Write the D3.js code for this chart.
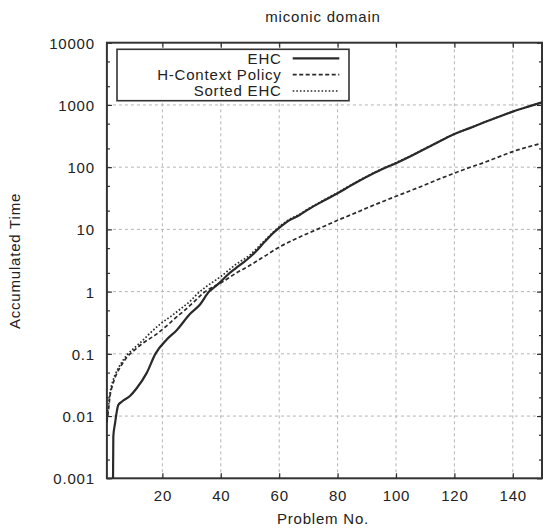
<!DOCTYPE html>
<html>
<head>
<meta charset="utf-8">
<script src="https://cdn.jsdelivr.net/npm/d3@7"></script>
<style>
  html, body { margin: 0; padding: 0; background: #fff; }
  svg text { font-family: "Liberation Sans", Arial, Helvetica, sans-serif; fill: #222; letter-spacing: 0.8px; }
</style>
</head>
<body>
<svg id="chart" width="544" height="529"></svg>
<script>
// ---- data ----
const title = "miconic domain";
const xLabel = "Problem No.";
const yLabel = "Accumulated Time";
const xTicks = [20, 40, 60, 80, 100, 120, 140];
const yTicks = [0.001, 0.01, 0.1, 1, 10, 100, 1000, 10000];
const yTickLabels = ["0.001", "0.01", "0.1", "1", "10", "100", "1000", "10000"];
const seriesNames = ["EHC", "H-Context Policy", "Sorted EHC"];

const ehcX = [3.1, 3.2, 3.8, 4.9, 6.1, 8.9, 11.2, 14.6, 17.6, 21.5, 24.9, 29.5, 32.9, 36, 38, 40, 42, 45, 48, 50, 52, 55, 58, 60, 63, 67, 70, 75, 80, 85, 90, 95, 100, 105, 110, 115, 120, 125, 130, 135, 140, 145, 150];
const ehcY = [0.001, 0.0047, 0.0077, 0.015, 0.017, 0.021, 0.028, 0.049, 0.1, 0.17, 0.24, 0.44, 0.62, 1.0, 1.2, 1.45, 1.8, 2.35, 3.0, 3.6, 4.4, 6.3, 8.8, 10.6, 13.6, 17, 21, 28.5, 38, 52, 70, 92, 116, 150, 198, 260, 340, 420, 520, 640, 780, 930, 1100];

const hctxX = [1, 1.5, 2, 3, 4, 5, 6, 7, 8, 10, 13, 17.5, 21, 24.3, 28, 31, 34, 37, 40, 45, 50, 55, 60, 65, 70, 75, 80, 85, 90, 95, 100, 105, 110, 115, 120, 125, 130, 135, 140, 145, 150];
const hctxY = [0.008, 0.012, 0.02, 0.032, 0.044, 0.055, 0.066, 0.078, 0.09, 0.11, 0.145, 0.2, 0.27, 0.37, 0.52, 0.7, 0.95, 1.17, 1.38, 1.95, 2.65, 3.7, 5.2, 6.8, 8.7, 11, 14, 17.5, 22, 27.5, 34, 42, 52, 65, 80, 98, 118, 145, 178, 210, 243];

const sortedX = [1, 1.5, 2, 3, 4, 5, 6, 7, 8, 10, 13, 16, 19.2, 23.2, 26.5, 29.5, 32, 35, 38, 40, 45, 50, 55, 60, 63, 67, 70, 75, 80, 85, 90, 95, 100, 105, 110, 115, 120, 125, 130, 135, 140, 145, 150];
const sortedY = [0.009, 0.014, 0.022, 0.036, 0.048, 0.06, 0.072, 0.085, 0.097, 0.12, 0.16, 0.22, 0.3, 0.41, 0.54, 0.7, 0.92, 1.2, 1.5, 1.75, 2.7, 3.9, 6.6, 11, 14, 17.5, 21.5, 29, 39, 53, 71, 93, 118, 152, 200, 262, 342, 422, 522, 642, 782, 932, 1100];

// ---- layout ----
const svg = d3.select("#chart");
const x = d3.scaleLinear().domain([1, 150]).range([106.9, 542]);
const y = d3.scaleLog().domain([0.001, 10000]).range([478.3, 42.7]);
const ink = "#2a2a2a";
const X0 = x.range()[0], X1 = x.range()[1], Y0 = y.range()[0], Y1 = y.range()[1];

svg.append("defs").append("clipPath").attr("id", "clip")
  .append("rect").attr("x", X0).attr("y", Y1).attr("width", X1 - X0).attr("height", Y0 - Y1);

// grid
const grid = svg.append("g");
grid.selectAll(".gx").data(xTicks).join("line")
  .attr("x1", d => x(d)).attr("x2", d => x(d)).attr("y1", Y0).attr("y2", Y1)
  .attr("stroke", "#b4b4b4").attr("stroke-width", 1).attr("stroke-dasharray", "3,3");
grid.selectAll(".gy").data(yTicks.slice(1, -1)).join("line")
  .attr("x1", X0).attr("x2", X1).attr("y1", d => y(d)).attr("y2", d => y(d))
  .attr("stroke", "#b4b4b4").attr("stroke-width", 1).attr("stroke-dasharray", "3,3");

// axes (ticks inward) via d3 axes
const fmt = d => yTickLabels[yTicks.indexOf(d)];
const minorVals = [];
yTicks.slice(0, -1).forEach(v => { minorVals.push(v * 2, v * 5); });

const axBottom = svg.append("g").attr("transform", `translate(0,${Y0})`)
  .call(d3.axisBottom(x).tickValues(xTicks).tickSizeInner(-5).tickSizeOuter(0).tickPadding(18));
const axTop = svg.append("g").attr("transform", `translate(0,${Y1})`)
  .call(d3.axisTop(x).tickValues(xTicks).tickSizeInner(-5).tickSizeOuter(0).tickFormat(""));
const axLeft = svg.append("g").attr("transform", `translate(${X0},0)`)
  .call(d3.axisLeft(y).tickValues(yTicks).tickFormat(fmt).tickSizeInner(-5).tickSizeOuter(0).tickPadding(18));
const axLeftMinor = svg.append("g").attr("transform", `translate(${X0},0)`)
  .call(d3.axisLeft(y).tickValues(minorVals).tickFormat("").tickSizeInner(-3).tickSizeOuter(0));
const axRight = svg.append("g").attr("transform", `translate(${X1},0)`)
  .call(d3.axisRight(y).tickValues(yTicks).tickFormat("").tickSizeInner(-5).tickSizeOuter(0));
const axRightMinor = svg.append("g").attr("transform", `translate(${X1},0)`)
  .call(d3.axisRight(y).tickValues(minorVals).tickFormat("").tickSizeInner(-3).tickSizeOuter(0));

[axBottom, axTop, axLeft, axLeftMinor, axRight, axRightMinor].forEach(g => {
  g.select(".domain").remove();
  g.selectAll(".tick line").attr("stroke", ink).attr("stroke-width", 1.2);
  g.selectAll("text").attr("font-size", 15).attr("font-family", null).attr("fill", "#222");
});
axLeft.selectAll("text").attr("dy", "0.36em").attr("x", -12);
axBottom.selectAll("text").attr("dy", 0).attr("y", 23);

// frame
svg.append("rect").attr("x", X0).attr("y", Y1).attr("width", X1 - X0).attr("height", Y0 - Y1)
  .attr("fill", "none").attr("stroke", "#333").attr("stroke-width", 2);

// series
const line = d3.line().x(d => x(d[0])).y(d => y(d[1])).curve(d3.curveMonotoneX);
const plot = svg.append("g").attr("clip-path", "url(#clip)");
const styles = [
  { w: 2.2, dash: null },
  { w: 1.7, dash: "4,2.5" },
  { w: 1.7, dash: "1.6,2" }
];
const seriesData = [
  d3.zip(ehcX, ehcY),
  d3.zip(hctxX, hctxY),
  d3.zip(sortedX, sortedY)
];
plot.selectAll("path.s").data(seriesData).join("path")
  .attr("class", "s")
  .attr("d", line)
  .attr("fill", "none")
  .attr("stroke", ink)
  .attr("stroke-width", (d, i) => styles[i].w)
  .attr("stroke-dasharray", (d, i) => styles[i].dash);

// legend
const lg = svg.append("g");
lg.append("rect").attr("x", 117).attr("y", 49.3).attr("width", 232).attr("height", 51.4)
  .attr("fill", "#fff").attr("stroke", "#333").attr("stroke-width", 1.6);
const rowY = [58.3, 74.6, 91];
seriesNames.forEach((n, i) => {
  lg.append("text").attr("x", 281.7).attr("y", rowY[i]).attr("dy", "0.36em")
    .attr("text-anchor", "end").attr("font-size", 15).text(n);
  lg.append("line").attr("x1", 292.7).attr("x2", 339.3).attr("y1", rowY[i]).attr("y2", rowY[i])
    .attr("stroke", ink).attr("stroke-width", styles[i].w).attr("stroke-dasharray", styles[i].dash);
});

// titles
svg.append("text").attr("x", 323).attr("y", 22).attr("text-anchor", "middle").attr("font-size", 15).text(title);
svg.append("text").attr("x", 323).attr("y", 524).attr("text-anchor", "middle").attr("font-size", 15).text(xLabel);
svg.append("text").attr("transform", "translate(20,261) rotate(-90)").attr("text-anchor", "middle").attr("font-size", 15).text(yLabel);
</script>
</body>
</html>
